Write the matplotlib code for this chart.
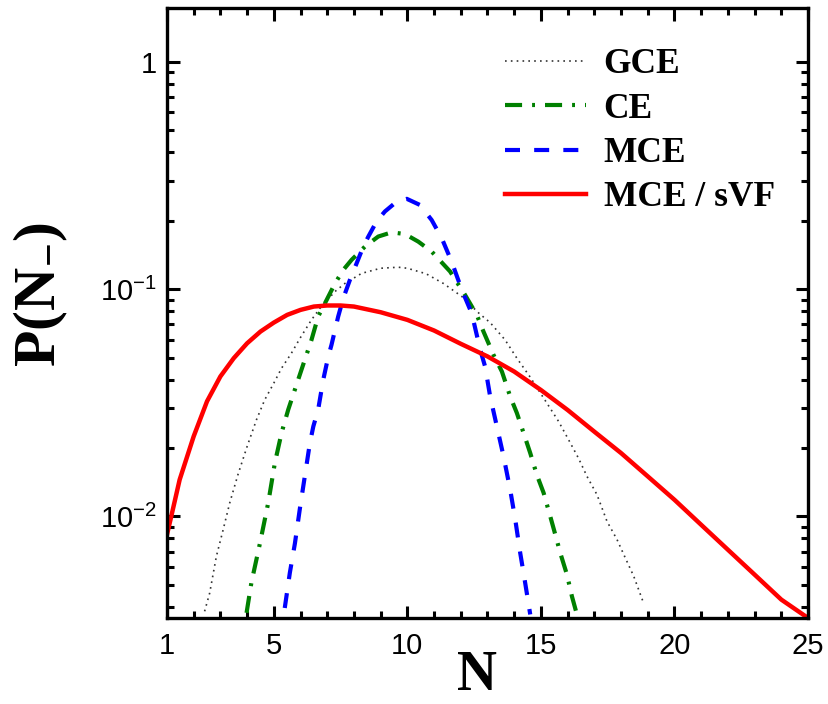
import math

import matplotlib
matplotlib.use('Agg')
import matplotlib.pyplot as plt
from matplotlib.ticker import FixedLocator, FuncFormatter, LogLocator, MultipleLocator

## ======= Multiplicity distributions in different ensembles

# GCE (grey dotted)
n_gce = [2.41, 2.6, 2.85, 3.1, 3.35, 3.66, 4, 4.35, 4.66, 5, 5.29, 5.66, 5.98, 6.41, 6.73,
         7.29, 7.66, 8.29, 9, 9.66, 10, 10.7, 11.35, 12.04, 12.7, 13.1, 13.66, 14.1, 14.6,
         15.225, 15.66, 16.04, 16.41, 16.725, 17.1, 17.475, 17.85, 18.16, 18.475, 18.85]
p_gce = [0.00382, 0.0046, 0.00667, 0.0087, 0.01146, 0.0153, 0.0203, 0.0266, 0.0326, 0.0386,
         0.0449, 0.0523, 0.0608, 0.0733, 0.0825, 0.0977, 0.106, 0.1175, 0.1237, 0.125, 0.1237,
         0.117, 0.106, 0.0929, 0.078, 0.0713, 0.0598, 0.0497, 0.041, 0.0315, 0.0262, 0.0217,
         0.018, 0.0150, 0.01245, 0.0095, 0.0079, 0.00656, 0.00545, 0.00413]

# CE (green dash-dot)
n_ce = [3.98, 4.16, 4.48, 4.79, 5.04, 5.29, 5.54, 5.91, 6.16, 6.41, 6.66, 6.98, 7.29, 7.6,
        7.91, 8.41, 8.91, 9.41, 9.91, 10.41, 10.91, 11.6, 12.16, 12.6, 12.85, 13.225, 13.54,
        13.85, 14.1, 14.35, 14.6, 14.85, 15.1, 15.35, 15.54, 15.725, 15.975, 16.16, 16.35]
p_ce = [0.00376, 0.0051, 0.0076, 0.01146, 0.0172, 0.0233, 0.0295, 0.0399, 0.0489, 0.0598,
        0.0758, 0.0898, 0.106, 0.1216, 0.1346, 0.154, 0.1706, 0.178, 0.175, 0.162, 0.1465,
        0.1197, 0.0944, 0.077, 0.0651, 0.0514, 0.0434, 0.0337, 0.0285, 0.0233, 0.019, 0.0152,
        0.0127, 0.0100, 0.0083, 0.0069, 0.00554, 0.00445, 0.00369]

# MCE (blue dashed)
n_mce = [5.41, 5.6, 5.79, 5.98, 6.16, 6.35, 6.48, 6.66, 6.85, 7.04, 7.16, 7.41, 7.6, 7.85,
         8.1, 8.35, 8.54, 8.85, 9.16, 9.6, 9.98, 10.47, 10.91, 11.29, 11.66, 12.04, 12.41,
         12.73, 12.91, 13.1, 13.35, 13.6, 13.85, 14.04, 14.225, 14.41, 14.6]
p_mce = [0.00395, 0.00564, 0.0076, 0.0109, 0.015, 0.021, 0.0249, 0.0295, 0.0399, 0.0506,
         0.0569, 0.0758, 0.0912, 0.11, 0.13, 0.154, 0.1706, 0.199, 0.22, 0.243, 0.25, 0.235,
         0.2017, 0.1675, 0.132, 0.0993, 0.0783, 0.054, 0.0457, 0.0337, 0.0249, 0.0184, 0.0131,
         0.00967, 0.0069, 0.0051, 0.0037]

# MCE / sVF (red solid)
n_svf = [1, 1.19, 1.475, 2, 2.5, 3, 3.5, 4, 4.5, 5, 5.5, 6, 6.5, 7, 7.5, 8, 9, 10, 11, 12,
         13, 14, 15, 16, 17, 18, 19, 20, 21, 22, 23, 24, 25]
p_svf = [0.0083, 0.01035, 0.0145, 0.0225, 0.0321, 0.0413, 0.0497, 0.0578, 0.0651, 0.0713,
         0.0771, 0.0811, 0.0839, 0.0848, 0.0848, 0.0839, 0.0792, 0.0733, 0.0658, 0.0575,
         0.0506, 0.0434, 0.0360, 0.0294, 0.0236, 0.0190, 0.0150, 0.01183, 0.00918, 0.00713,
         0.00554, 0.0043, 0.00357]

x_ticks = [1, 5, 10, 15, 20, 25]
y_ticks = [0.01, 0.1, 1]

plt.rcParams['font.family'] = 'Liberation Sans'
plt.rcParams['mathtext.fontset'] = 'custom'
plt.rcParams['mathtext.rm'] = 'Liberation Sans'
plt.rcParams['mathtext.it'] = 'Liberation Sans:italic'
plt.rcParams['mathtext.bf'] = 'Liberation Serif:bold'

fig = plt.figure(figsize=(8.29, 7.04), dpi=100)
ax = fig.add_axes([0.2014, 0.1222, 0.7733, 0.8664])

ax.plot(n_gce, p_gce, color='#333333', lw=1.2, ls=(0, (1, 2.5)), label='GCE')
ax.plot(n_ce, p_ce, color='green', lw=3, ls=(0, (4.1, 2.4, 0.7, 2.4)), label='CE')
ax.plot(n_mce, p_mce, color='blue', lw=3, ls=(0, (3.6, 3.4)), label='MCE')
ax.plot(n_svf, p_svf, color='red', lw=3.2, label='MCE / sVF')

ax.set_yscale('log')
ax.set_xlim(1, 25)
ax.set_ylim(0.00357, 1.73)

ax.xaxis.set_major_locator(FixedLocator(x_ticks))
ax.xaxis.set_minor_locator(MultipleLocator(1))
ax.yaxis.set_major_locator(FixedLocator(y_ticks))
ax.yaxis.set_minor_locator(LogLocator(base=10, subs=range(2, 10)))


def fmt_y(v, pos):
    if abs(v - 1) < 1e-9:
        return '1'
    return r'$10^{%d}$' % round(math.log10(v))


ax.yaxis.set_major_formatter(FuncFormatter(fmt_y))

ax.tick_params(which='both', direction='in', top=True, right=True, width=2.2,
               labelsize=21)
ax.tick_params(axis='x', pad=10)
ax.tick_params(axis='y', pad=7)
ax.tick_params(which='major', length=9)
ax.tick_params(which='minor', length=5)
for s in ax.spines.values():
    s.set_linewidth(2.4)

ax.set_xlabel('N', family='Liberation Serif', fontweight='bold', fontsize=40)
ax.xaxis.set_label_coords(0.484, -0.053)
ax.set_ylabel(r'$\mathbf{P(N_{-})}$', fontsize=43)
ax.yaxis.set_label_coords(-0.152, 0.53)

ax.legend(loc='upper left', bbox_to_anchor=(0.499, 0.963), frameon=False, borderpad=0,
          handlelength=2.3, handletextpad=0.5, labelspacing=0.32,
          prop={'family': 'Liberation Serif', 'weight': 'bold', 'size': 25.5})

fig.savefig('out.png', dpi=100)
